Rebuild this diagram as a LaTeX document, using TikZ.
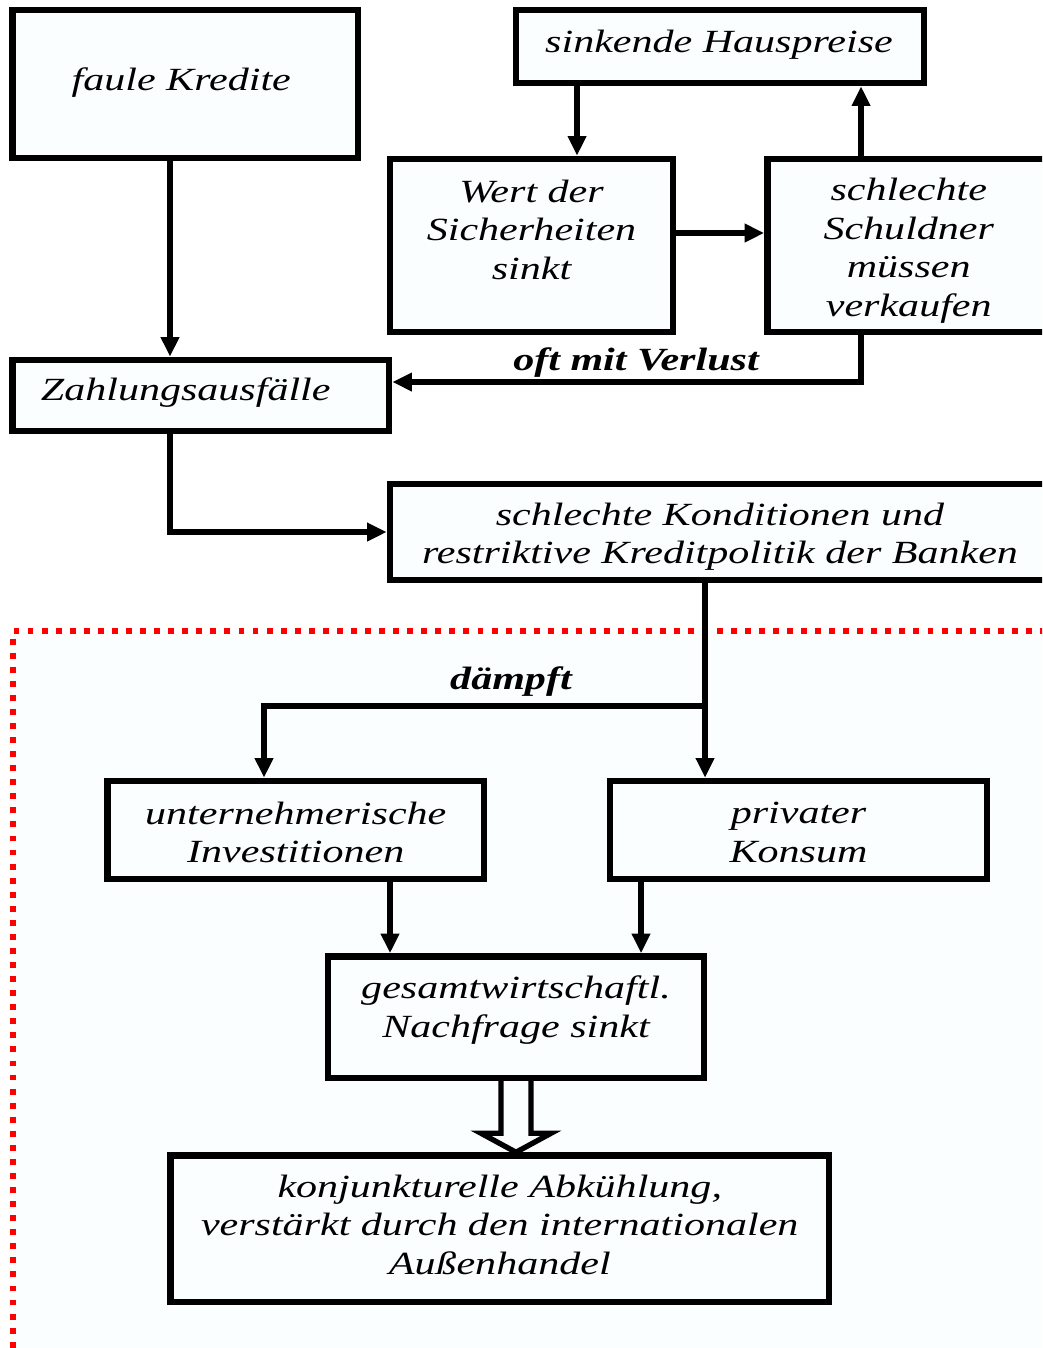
\documentclass[tikz,border=0pt]{standalone}
\usepackage{fontspec}
\newfontfamily\boxfont[FakeStretch=1.3]{Liberation Serif}
\usepackage{xcolor}
\definecolor{boxfill}{RGB}{250,254,255}
\definecolor{zonered}{RGB}{255,0,0}
\usetikzlibrary{arrows.meta, calc, fit}

\tikzset{
  box/.style={draw, line width=4.6pt, fill=boxfill, inner sep=0pt},
  boxtext/.style={font=\boxfont\itshape\fontsize{23}{27.4}\selectfont, align=center, inner sep=0pt},
  arr/.style={line width=3.8pt, -{Triangle[length=14pt,width=12.5pt]}},
  lbl/.style={font=\boxfont\bfseries\itshape\fontsize{23}{27.4}\selectfont, inner sep=2pt},
  hollow/.style={line width=3.8pt, fill=boxfill, line join=miter},
  zone/.style={zonered, line width=3.6pt, dash pattern=on 4.2pt off 5.8pt},
}

\begin{document}
\begin{tikzpicture}[x=0.025cm, y=-0.025cm]
  \useasboundingbox (0,0) rectangle (1042,1348);
  \clip (0,0) rectangle (1042,1348);
  % tinted zone with red dotted border
  \fill[boxfill] (13,631) rectangle (1060,1360);
  \draw[zone] (1060,631) -- (13,631) -- (13,1360);
  % boxes, upper part
  \node[box, fit={(12.5,10) (358,158)}] (faule) {};
  \node[boxtext] (fauletxt) at ($(faule)+(-4,-1)$) {faule Kredite};
  \node[box, fit={(516,10) (924,83)}] (haus) {};
  \node[boxtext] (haustxt) at ($(haus)+(-1,-2)$) {sinkende Hauspreise};
  \node[box, fit={(390,159) (673,332)}] (wert) {};
  \node[boxtext] (werttxt) at ($(wert)+(0,-16)$) {Wert der\\Sicherheiten\\sinkt};
  \node[box, fit={(767.5,159) (1050,332)}] (schuldner) {};
  \node[boxtext] (schuldnertxt) at ($(schuldner)+(0,5)$) {schlechte\\Schuldner\\müssen\\verkaufen};
  \node[box, fit={(12.5,360) (389,431)}] (zahlung) {};
  \node[boxtext] (zahlungtxt) at ($(zahlung)+(-15,-3)$) {Zahlungsausfälle};
  \node[box, fit={(390,484) (1050,580)}] (kond) {};
  \node[boxtext] (kondtxt) at ($(kond)+(0,4.5)$) {schlechte Konditionen und\\restriktive Kreditpolitik der Banken};
  % boxes, lower part
  \node[box, fit={(107.5,781) (484,879)}] (invest) {};
  \node[boxtext] (investtxt) at ($(invest)+(0,2.5)$) {unternehmerische\\Investitionen};
  \node[box, fit={(610,781) (987,879)}] (konsum) {};
  \node[boxtext] (konsumtxt) at ($(konsum)+(0,2.5)$) {privater\\Konsum};
  \node[box, fit={(328,956.5) (704,1078)}] (gesamt) {};
  \node[boxtext] (gesamttxt) at ($(gesamt)+(0,-7)$) {gesamtwirtschaftl.\\Nachfrage sinkt};
  \node[box, fit={(170.5,1155.5) (829,1302)}] (abk) {};
  \node[boxtext] (abktxt) at ($(abk)+(0,-4)$) {konjunkturelle Abkühlung,\\verstärkt durch den internationalen\\Außenhandel};
  % connector columns and rows
  \coordinate (c1) at (170,0);
  \coordinate (c2) at (577,0);
  \coordinate (c3) at (861,0);
  \coordinate (c4) at (705,0);
  \coordinate (c5) at (264,0);
  \coordinate (c6) at (390,0);
  \coordinate (c7) at (641,0);
  \coordinate (r1) at (0,233);
  \coordinate (r2) at (0,382);
  \coordinate (r3) at (0,706);
  % connectors
  \draw[arr] (c1 |- faule.south) -- (c1 |- zahlung.north);
  \draw[arr] (c2 |- haus.south) -- (c2 |- wert.north);
  \draw[arr] (wert.east |- r1) -- (schuldner.west |- r1);
  \draw[arr] (c3 |- schuldner.north) -- (c3 |- haus.south);
  \draw[arr] (c3 |- schuldner.south) |- node[lbl, above=-0.8pt, pos=0.74] {oft mit Verlust} (zahlung.east |- r2);
  \draw[arr] (c1 |- zahlung.south) |- (kond.west);
  \draw[arr] (c4 |- kond.south) -- (c4 |- konsum.north);
  \draw[arr] (c4 |- r3) -| node[lbl, above=3pt, pos=0.22] {dämpft} (c5 |- invest.north);
  \draw[arr] (c6 |- invest.south) -- (c6 |- gesamt.north);
  \draw[arr] (c7 |- konsum.south) -- (c7 |- gesamt.north);
  % hollow arrow
  \draw[hollow] ($(gesamt.south)+(-15,0)$) -- ($(gesamt.south)+(-15,52)$)
    -- ($(gesamt.south)+(-35,52)$) -- (gesamt.south |- abk.north)
    -- ($(gesamt.south)+(35,52)$) -- ($(gesamt.south)+(15,52)$)
    -- ($(gesamt.south)+(15,0)$);
\end{tikzpicture}
\end{document}
